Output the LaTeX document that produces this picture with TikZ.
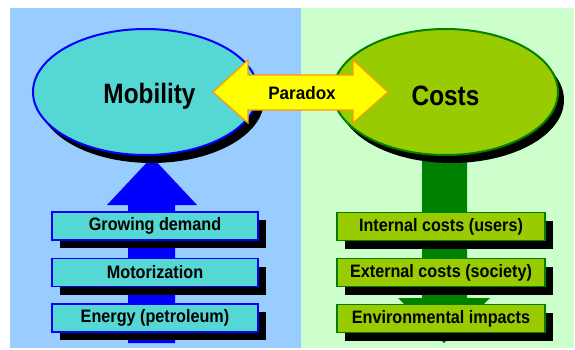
\documentclass[tikz,border=0pt]{standalone}
\usepackage{fontspec}
\setmainfont{Liberation Sans}
\newfontfamily\titlefont[FakeStretch=0.87]{Liberation Sans}
\newfontfamily\boxfont[FakeStretch=0.9]{Liberation Sans}
\newfontfamily\parafont[FakeStretch=0.95]{Liberation Sans}
\usetikzlibrary{shapes.geometric,shadows}
\definecolor{bluebg}{HTML}{99CCFF}
\definecolor{greenbg}{HTML}{CCFFCC}
\definecolor{turq}{HTML}{55D8D4}
\definecolor{blueline}{HTML}{0000FF}
\definecolor{costgreen}{HTML}{99CC00}
\definecolor{darkgreen}{HTML}{008000}
\definecolor{parayellow}{HTML}{FFFF00}
\definecolor{paraorange}{HTML}{FF9900}
\begin{document}
\begin{tikzpicture}[x=1pt,y=-1pt,
  ell/.style={ellipse, draw, line width=2pt, inner sep=0pt,
    minimum width=225pt, minimum height=126pt,
    drop shadow={shadow xshift=6pt, shadow yshift=-8pt, opacity=1, fill=black},
    font=\titlefont\bfseries\fontsize{28}{30}\selectfont},
  box/.style={rectangle, draw, line width=1.8pt, inner sep=0pt,
    minimum height=28pt,
    drop shadow={shadow xshift=8pt, shadow yshift=-8pt, opacity=1, fill=black},
    font=\boxfont\bfseries\fontsize{18}{20}\selectfont},
  lbox/.style={box, fill=turq, draw=blueline, minimum width=206pt},
  rbox/.style={box, fill=costgreen, draw=darkgreen, minimum width=208pt},
]
\useasboundingbox (0,0) rectangle (575,349);
\fill[white] (0,0) rectangle (575,349);
\fill[bluebg] (10,8) rectangle (301,348);
\fill[greenbg] (301,8) rectangle (574,348);

% big arrows
\fill[blueline] (152,157) -- (197,205) -- (175,205) -- (175,343) -- (128,343)
  -- (128,205) -- (107,205) -- cycle;
\fill[darkgreen] (422,150) -- (467,150) -- (467,298) -- (490,298) -- (444,343)
  -- (398,298) -- (422,298) -- cycle;

% ellipses
\node[ell, fill=turq, draw=blueline] (mob) at (145.5,92) {\hspace*{8pt}\raisebox{-4pt}[\height][\depth]{Mobility}};
\node[ell, fill=costgreen, draw=darkgreen] (cost) at (445.5,92) {\raisebox{-4pt}[\height][\depth]{Costs}};

% paradox double arrow
\fill[parayellow, draw=paraorange, line width=1.2pt, line join=miter]
  (213,92) -- (248,60) -- (248,75) -- (353,75) -- (353,60) -- (388,92)
  -- (353,123) -- (353,110) -- (248,110) -- (248,123) -- cycle;
\node[font=\parafont\bfseries\fontsize{18}{20}\selectfont] (par) at (302,93) {Paradox};

% boxes
\node[lbox] (gd) at (155,226) {Growing demand};
\node[lbox] (mo) at (155,272.5) {Motorization};
\node[lbox] (en) at (155,318) {Energy (petroleum)};
\node[rbox] (ic) at (441,226.5) {Internal costs (users)};
\node[rbox] (ec) at (441,272.5) {External costs (society)};
\node[rbox] (ei) at (441,318.5) {Environmental impacts};
\end{tikzpicture}
\end{document}
